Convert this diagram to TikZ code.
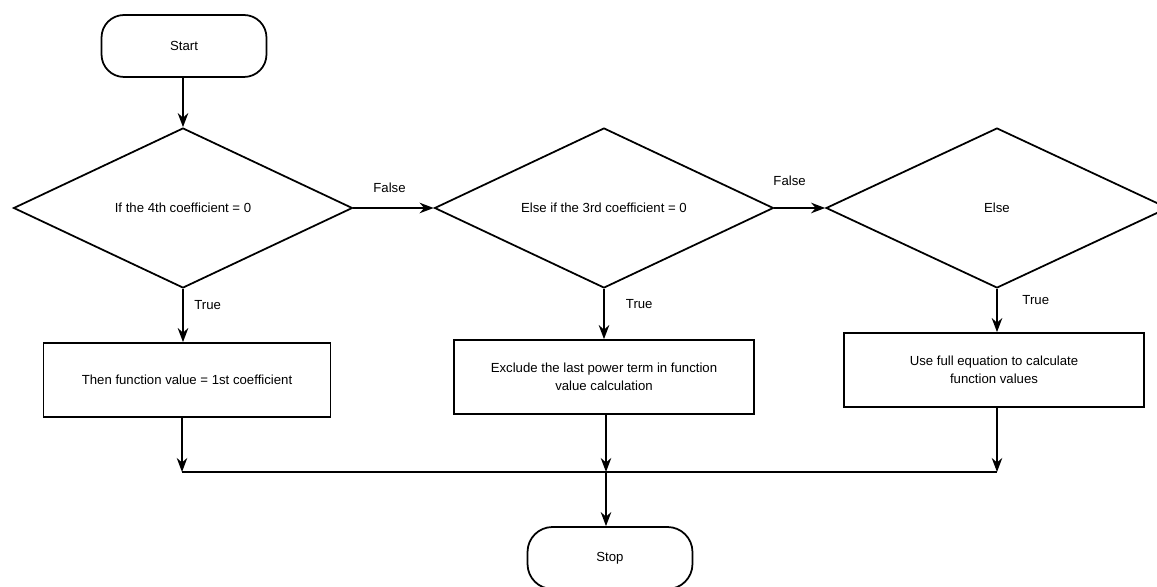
\documentclass[tikz,border=0pt]{standalone}
\usepackage{fontspec}
\setmainfont{Liberation Sans}
\usetikzlibrary{shapes.geometric,arrows.meta}
\newcommand{\condtext}[1]{\makebox[0pt]{#1}}

\begin{document}
\begin{tikzpicture}[x=0.02cm,y=-0.02cm]
\tikzset{every node/.style={font=\fontsize{7.5}{10}\selectfont},
  term/.style={draw,line width=1pt,rounded corners=0.45cm,minimum width=3.3cm,minimum height=1.24cm},
  decision/.style={draw,diamond,line width=1pt,inner sep=0pt,minimum width=6.78cm,minimum height=3.2cm},
  process/.style={draw,rectangle,line width=1pt,align=center,minimum height=1.48cm},
  arr/.style={-{Stealth[length=8pt,width=6pt]},line width=1pt},
  thinarr/.style={-{Stealth[length=8pt,width=6pt]},line width=0.7pt},
  lbl/.style={inner sep=2pt}}
\useasboundingbox (0,0) rectangle (1157,587);
% nodes
\node[term] (start) at (184,46) {Start};
\node[decision] (d1) at (183,208) {\condtext{If the 4th coefficient = 0}};
\node[decision] (d2) at (604,208) {\condtext{Else if the 3rd coefficient = 0}};
\node[decision,minimum width=6.84cm] (d3) at (997,208) {\condtext{Else}};
\node[process,minimum width=5.74cm] (p1) at (187,380) {Then function value = 1st coefficient};
\node[process,minimum width=6cm] (p2) at (604,377) {Exclude the last power term in function\\value calculation};
\node[process,minimum width=6cm] (p3) at (994,370) {Use full equation to calculate\\function values};
\node[term,minimum width=3.3cm,minimum height=1.24cm,rounded corners=0.5cm] (stop) at (610,558) {Stop};
\coordinate (m1) at (182,472);
\coordinate (m2) at (606,472);
\coordinate (m3) at (997,472);
% flow
\draw[arr] (start.south -| d1.north) -- (d1.north);
\draw[arr] (d1.east) -- node[lbl,above,pos=0.45,yshift=6pt] {False} (d2.west);
\draw[arr] (d2.east) -- node[lbl,above,pos=0.3,yshift=10pt] {False} (d3.west);
\draw[arr] (d1.south) -- node[lbl,right,pos=0.3,xshift=4pt] {True} (d1.south |- p1.north);
\draw[arr] (d2.south) -- node[lbl,right,pos=0.3,xshift=10pt] {True} (d2.south |- p2.north);
\draw[arr] (d3.south) -- node[lbl,right,pos=0.25,xshift=12pt] {True} (d3.south |- p3.north);
\draw[thinarr] (p1.south -| m1) -- (m1);
\draw[thinarr] (p2.south -| m2) -- (m2);
\draw[thinarr] (p3.south -| m3) -- (m3);
\draw[line width=1.2pt] (m1) -- (m3);
\draw[thinarr] (m2) -- (m2 |- stop.north);
\end{tikzpicture}
\end{document}
